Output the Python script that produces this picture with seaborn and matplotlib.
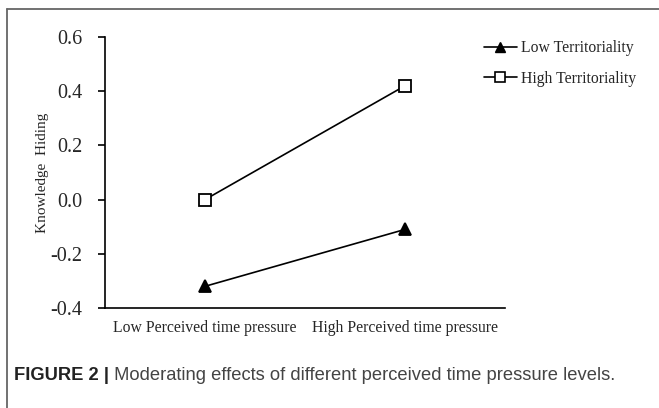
import matplotlib
matplotlib.use("Agg")
import matplotlib.pyplot as plt
from matplotlib.lines import Line2D
import seaborn as sns
import pandas as pd

# ---- data ----
categories = ["Low Perceived time pressure", "High Perceived time pressure"]
series_names = ["Low Territoriality", "High Territoriality"]
low_territoriality = [-0.32, -0.11]
high_territoriality = [0.00, 0.42]
y_ticks = [-0.4, -0.2, 0.0, 0.2, 0.4, 0.6]
y_label = "Knowledge  Hiding"
caption_bold = "FIGURE 2 |"
caption_text = " Moderating effects of different perceived time pressure levels."

df = pd.DataFrame({
    "pressure": categories * 2,
    "group": [series_names[0]] * 2 + [series_names[1]] * 2,
    "value": low_territoriality + high_territoriality,
})

sns.set_theme(style="white")
plt.rcParams["font.family"] = ["Liberation Serif", "DejaVu Serif"]

cap_font = ["Liberation Sans", "DejaVu Sans"]
cap_size = 13.2

fig = plt.figure(figsize=(6.59, 4.08), dpi=100)
ax = fig.add_axes([105 / 659, 1 - 308 / 408, 400 / 659, 271 / 408])

sns.pointplot(data=df, x="pressure", y="value", hue="group", order=categories,
              hue_order=series_names, palette=["black", "black"],
              markers=["^", "s"], linestyles=["-", "-"], errorbar=None,
              markersize=8, linewidth=1.2, ax=ax, legend=False)

face = {0: "black", 1: "white"}
for i, line in enumerate(ax.lines[:2]):
    line.set_markerfacecolor(face[i])
    line.set_markeredgecolor("black")
    line.set_markeredgewidth(1.3)
    line.set_color("black")

ax.set_xlim(-0.5, 1.5)
ax.set_ylim(-0.4, 0.6)
ax.set_yticks(y_ticks)
ax.set_yticklabels([f"{v:.1f}" for v in y_ticks])
ax.tick_params(axis="y", which="both", direction="out", length=5, width=1.2,
               color="black", labelsize=14.5, pad=11.5, left=True)
ax.tick_params(axis="x", length=0, labelsize=11.3, pad=9)
ax.set_xlabel("")
ax.set_ylabel(y_label, fontsize=11)
ax.yaxis.set_label_coords(-0.14, 0.5)
for s in ["top", "right"]:
    ax.spines[s].set_visible(False)
for s in ["left", "bottom"]:
    ax.spines[s].set_color("black")
    ax.spines[s].set_linewidth(1.2)

handles = [
    Line2D([], [], color="black", marker="^", markersize=7, markerfacecolor="black",
           markeredgecolor="black", linewidth=1.2),
    Line2D([], [], color="black", marker="s", markersize=7, markerfacecolor="white",
           markeredgecolor="black", markeredgewidth=1.2, linewidth=1.2),
]
fig.legend(handles, series_names, loc="upper left",
           bbox_to_anchor=(484 / 659, 1 - 40 / 408), frameon=False,
           fontsize=11.3, handlelength=2.1, handletextpad=0.25,
           labelspacing=0.95, borderaxespad=0, borderpad=0)

# frame border
fig.add_artist(Line2D([7 / 659, 7 / 659], [0, 1 - 9 / 408], color="#666666",
                      linewidth=1.3, transform=fig.transFigure))
fig.add_artist(Line2D([7 / 659, 1], [1 - 9 / 408, 1 - 9 / 408], color="#666666",
                      linewidth=1.3, transform=fig.transFigure))

t1 = fig.text(14 / 659, 1 - 375 / 408, caption_bold, fontsize=cap_size, fontweight="bold",
              family=cap_font, color="#222222", va="center", ha="left")
ax.annotate(caption_text, xy=(1, 0), xycoords=t1, va="bottom", ha="left",
            fontsize=cap_size, family=cap_font, color="#444444", annotation_clip=False)

fig.savefig("out.png", dpi=100)
